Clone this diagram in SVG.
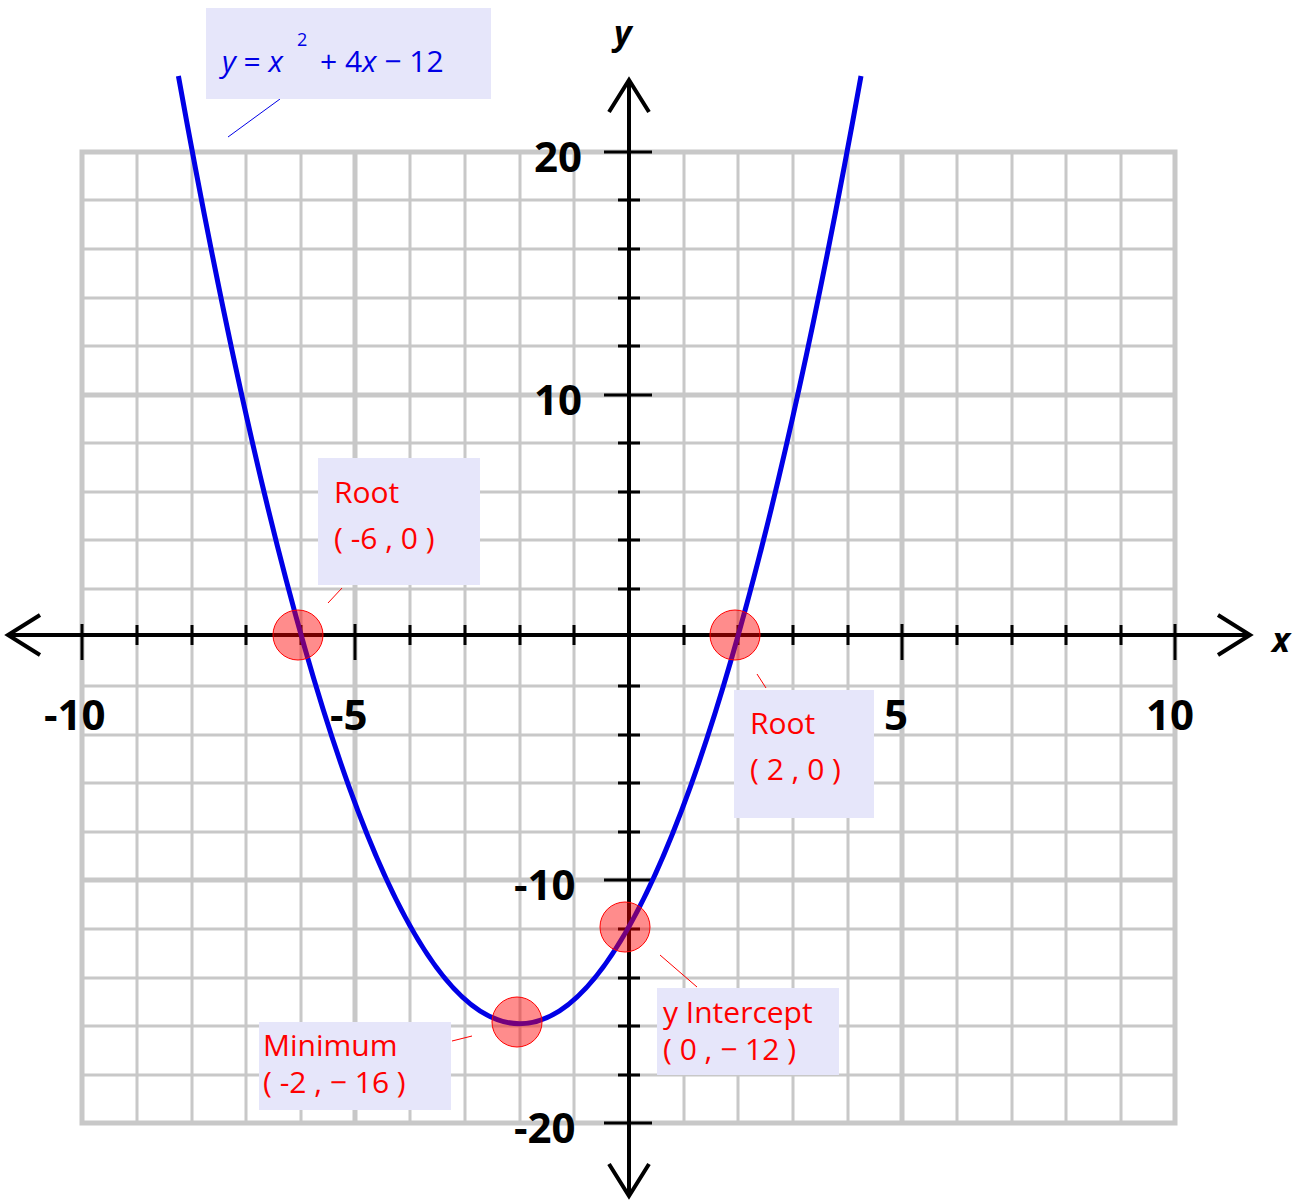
<svg xmlns="http://www.w3.org/2000/svg" width="1300" height="1202" viewBox="0 0 1300 1202" xml:space="preserve">
<style>
.g{stroke:#c8c8c8;stroke-width:3;fill:none}
.gt{stroke:#c8c8c8;stroke-width:5;fill:none}
.ax{stroke:#000;stroke-width:4;fill:none}
.tk{stroke:#000;stroke-width:3}
.num{font-family:"Open Sans","DejaVu Sans",sans-serif;font-weight:bold;font-size:42px;fill:#000}
.lbl{font-family:"Open Sans","DejaVu Sans",sans-serif;font-size:30px;fill:#f00}
.box{fill:#e6e6fa;stroke:none}
.pt{fill:#f00;fill-opacity:0.45;stroke:#f00;stroke-width:1}
.lead{stroke:#f00;stroke-width:1}
</style>
<rect width="1300" height="1202" fill="#fff"/>
<g id="grid">
<path class="g" d="M137 152V1123M192 152V1123M246 152V1123M301 152V1123M410 152V1123M465 152V1123M520 152V1123M574 152V1123M684 152V1123M738 152V1123M793 152V1123M848 152V1123M957 152V1123M1012 152V1123M1066 152V1123M1121 152V1123"/>
<path class="g" d="M82 200H1175M82 249H1175M82 298H1175M82 346H1175M82 443H1175M82 492H1175M82 540H1175M82 589H1175M82 686H1175M82 735H1175M82 783H1175M82 832H1175M82 929H1175M82 978H1175M82 1026H1175M82 1075H1175"/>
<path class="gt" d="M82 152H1175V1123H82ZM355 152V1123M902 152V1123M82 395H1175M82 880H1175"/>
</g>
<g id="axes">
<path class="ax" d="M8 635H1250M629 80V1196"/>
<path class="ax" d="M40 615L8 635L40 655M1218 615L1250 635L1218 655M609 112L629 80L649 112M609 1164L629 1196L649 1164"/>
<path class="tk" d="M82 624V660M137 625V645M192 625V645M246 625V645M301 625V645M355 624V660M410 625V645M465 625V645M520 625V645M574 625V645M684 625V645M738 625V645M793 625V645M848 625V645M902 624V660M957 625V645M1012 625V645M1066 625V645M1121 625V645M1175 624V660"/>
<path class="tk" d="M604 152H652M618 200H640M618 249H640M618 298H640M618 346H640M604 395H652M618 443H640M618 492H640M618 540H640M618 589H640M618 686H640M618 735H640M618 783H640M618 832H640M604 880H652M618 929H640M618 978H640M618 1026H640M618 1075H640M604 1123H652"/>
<text class="num" x="44" y="730">-10</text>
<text class="num" x="330" y="730">-5</text>
<text class="num" x="884" y="730">5</text>
<text class="num" x="1146" y="730">10</text>
<text class="num" x="534" y="172">20</text>
<text class="num" x="534" y="415">10</text>
<text class="num" x="514" y="900">-10</text>
<text class="num" x="514" y="1143">-20</text>
<text x="1272" y="652" font-family="'Open Sans','DejaVu Sans',sans-serif" font-size="34" font-weight="bold" font-style="italic">x</text>
<text x="614" y="45" font-family="'Open Sans','DejaVu Sans',sans-serif" font-size="34" font-weight="bold" font-style="italic">y</text>
</g>
<g id="curve">
<path d="M178.4 76Q519.7 1971.5 861 76" stroke="#0000e6" stroke-width="5" fill="none"/>
</g>
<g id="connectors">
<line class="lead" x1="328" y1="603" x2="342" y2="588"/>
<line class="lead" x1="757" y1="674" x2="766" y2="688"/>
<line class="lead" x1="660" y1="955" x2="697" y2="987"/>
<line class="lead" x1="452" y1="1041" x2="472" y2="1036"/>
<line x1="228" y1="137" x2="280" y2="99" stroke="#0000e6" stroke-width="1"/>
</g>
<g id="eq">
<rect class="box" x="206" y="8" width="285" height="91"/>
<text x="222" y="72" font-family="'Open Sans','DejaVu Sans',sans-serif" font-size="30" fill="#0000e6"><tspan font-style="italic">y</tspan> = <tspan font-style="italic">x</tspan></text>
<text x="297" y="46" font-family="'Open Sans','DejaVu Sans',sans-serif" font-size="18" fill="#0000e6">2</text>
<text x="320" y="72" font-family="'Open Sans','DejaVu Sans',sans-serif" font-size="30" fill="#0000e6">+ 4<tspan font-style="italic">x</tspan> −  12</text>
</g>
<g id="root1">
<rect class="box" x="318" y="458" width="162" height="127"/>
<text class="lbl" x="334" y="503">Root</text>
<text class="lbl" x="334" y="549">( -6 , 0 )</text>
<circle class="pt" cx="298" cy="635" r="25"/>
</g>
<g id="root2">
<rect class="box" x="734" y="690" width="140" height="128"/>
<text class="lbl" x="750" y="734">Root</text>
<text class="lbl" x="750" y="780">( 2 , 0 )</text>
<circle class="pt" cx="735" cy="635" r="25"/>
</g>
<g id="yint">
<rect class="box" x="657" y="988" width="182" height="87"/>
<text class="lbl" x="663" y="1023">y Intercept</text>
<text class="lbl" x="663" y="1060">( 0 ,  − 12 )</text>
<circle class="pt" cx="625" cy="927" r="25"/>
</g>
<g id="minimum">
<rect class="box" x="259" y="1022" width="192" height="88"/>
<text class="lbl" x="263" y="1056">Minimum</text>
<text class="lbl" x="263" y="1093">( -2 ,  − 16 )</text>
<circle class="pt" cx="517" cy="1022" r="25"/>
</g>
</svg>
